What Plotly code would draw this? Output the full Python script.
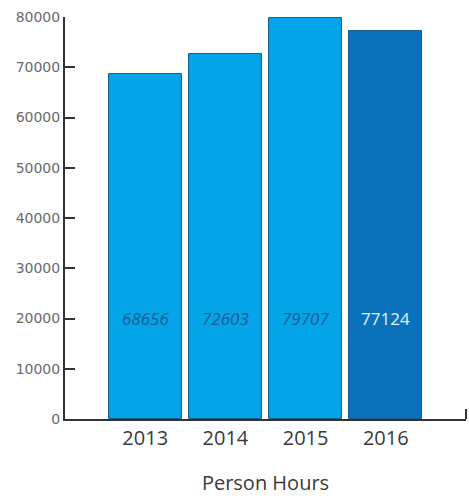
import plotly.graph_objects as go

# Annual person hours
years = ["2013", "2014", "2015", "2016"]
hours = [68656, 72603, 79707, 77124]
bar_colors = ["#03a4e8", "#03a4e8", "#03a4e8", "#0a71bb"]
label_colors = ["#1b5a95", "#1b5a95", "#1b5a95", "#e8f2fa"]
label_styles = ["italic", "italic", "italic", "normal"]
y_ticks = [0, 10000, 20000, 30000, 40000, 50000, 60000, 70000, 80000]
label_level = 20000
x_title = "Person Hours"

idx = list(range(len(years)))

fig = go.Figure()
fig.add_trace(go.Bar(
    x=idx,
    y=hours,
    width=0.91,
    marker=dict(color=bar_colors, line=dict(color="#1a5d8c", width=1)),
    hoverinfo="skip",
))

for i, v, c, s in zip(idx, hours, label_colors, label_styles):
    fig.add_annotation(
        x=i, y=label_level, text=str(v), showarrow=False,
        font=dict(family="Open Sans", size=17, color=c, style=s),
    )

# closing tick at the right end of the x axis
fig.add_shape(type="line", xref="paper", yref="paper",
              x0=1, x1=1, y0=0, y1=0.025,
              line=dict(color="#333333", width=2))

fig.update_layout(
    width=469, height=500,
    margin=dict(l=65, r=3, t=17, b=81),
    paper_bgcolor="white", plot_bgcolor="white",
    showlegend=False,
    bargap=0,
    xaxis=dict(
        range=[-1, 4], tickmode="array", tickvals=idx, ticktext=years,
        showline=True, linecolor="#333333", linewidth=2,
        showgrid=False, zeroline=False, ticks="",
        tickfont=dict(family="Open Sans", size=20, color="#3a3a3a"),
        title=dict(text=x_title, standoff=26,
                   font=dict(family="Open Sans", size=20, color="#3a3a3a")),
    ),
    yaxis=dict(
        range=[0, 80000], tickmode="array", tickvals=y_ticks,
        ticktext=[str(t) for t in y_ticks],
        showline=True, linecolor="#333333", linewidth=2,
        showgrid=False, zeroline=False,
        ticks="inside", ticklen=10, tickwidth=2, tickcolor="#333333",
        tickfont=dict(family="DejaVu Sans", size=14, color="#6a6a6a"),
    ),
)

fig.write_html("out.html")
